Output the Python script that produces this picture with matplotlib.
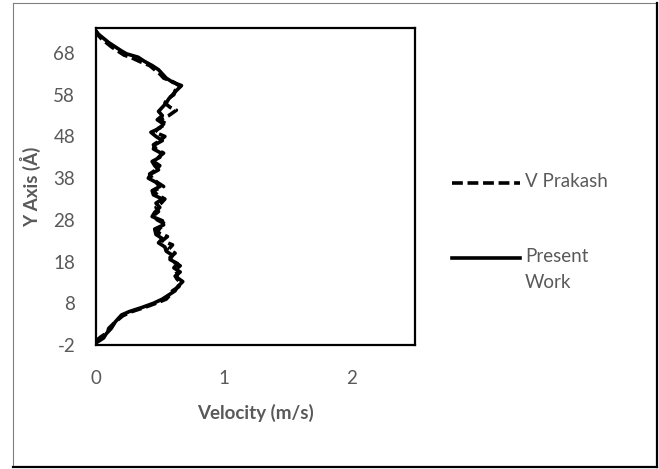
import matplotlib
matplotlib.use("Agg")
import matplotlib.pyplot as plt
from matplotlib.lines import Line2D

# 速度剖面数据
present_y = [-1.3, -0.3, 0.7, 2.0, 3.5, 5.2, 6.0, 7.0, 8.0, 9.0, 10.0, 11.0, 12.0, 13.2,
             14.5, 15.5, 16.5, 17.5, 18.5, 19.5, 20.5, 21.5, 22.5, 23.5, 24.5, 25.8,
             26.8, 27.8, 28.8, 29.8, 31.0, 32.0, 33.0, 34.0, 35.0, 36.0, 37.0, 38.0,
             39.0, 40.0, 41.0, 42.0, 43.0, 44.0, 45.0, 46.0, 47.0, 48.0, 49.0, 50.0,
             51.0, 52.0, 53.0, 54.0, 55.0, 56.0, 57.0, 58.0, 59.0, 60.2, 61.0, 62.0,
             63.0, 64.0, 65.0, 66.0, 67.0, 67.8, 68.5, 69.5, 70.5, 71.5, 72.5, 73.3]
present_v = [0.01, 0.06, 0.08, 0.12, 0.15, 0.20, 0.26, 0.36, 0.45, 0.52, 0.57, 0.62, 0.64, 0.68,
             0.62, 0.66, 0.61, 0.64, 0.58, 0.60, 0.55, 0.54, 0.49, 0.52, 0.47, 0.46,
             0.53, 0.52, 0.44, 0.46, 0.50, 0.47, 0.52, 0.45, 0.44, 0.50, 0.47, 0.41,
             0.43, 0.49, 0.46, 0.44, 0.50, 0.51, 0.45, 0.46, 0.52, 0.47, 0.43, 0.50,
             0.53, 0.48, 0.52, 0.49, 0.52, 0.55, 0.57, 0.60, 0.63, 0.67, 0.60, 0.55,
             0.52, 0.49, 0.44, 0.38, 0.33, 0.24, 0.20, 0.15, 0.10, 0.06, 0.02, 0.00]

prakash_y = [-1.0, 0.0, 1.0, 2.0, 3.5, 5.0, 6.0, 7.0, 8.0, 9.0, 10.0, 11.0, 12.0, 13.0,
             14.0, 15.0, 16.0, 17.0, 18.0, 19.0, 20.0, 21.0, 22.0, 23.0, 24.0, 25.0,
             26.0, 27.0, 28.0, 29.0, 30.0, 31.0, 32.0, 33.0, 34.0, 35.0, 36.0, 37.0,
             38.0, 39.0, 40.0, 41.0, 42.0, 43.0, 44.0, 45.0, 46.0, 47.0, 48.0, 49.0,
             50.0, 51.0, 52.0, 53.0, 54.3, 55.0, 56.0, 57.0, 58.0, 59.0, 60.0, 61.0,
             62.0, 63.0, 64.0, 65.0, 66.0, 67.0, 67.5, 68.5, 69.5, 70.5, 71.5, 72.5, 73.3]
prakash_v = [0.00, 0.04, 0.09, 0.10, 0.15, 0.21, 0.28, 0.38, 0.47, 0.55, 0.58, 0.60, 0.65, 0.66,
             0.63, 0.64, 0.62, 0.66, 0.60, 0.58, 0.62, 0.57, 0.60, 0.52, 0.56, 0.48,
             0.50, 0.54, 0.48, 0.45, 0.49, 0.47, 0.51, 0.54, 0.48, 0.45, 0.53, 0.48,
             0.44, 0.42, 0.47, 0.50, 0.45, 0.49, 0.53, 0.47, 0.45, 0.50, 0.54, 0.46,
             0.49, 0.55, 0.50, 0.57, 0.63, 0.58, 0.54, 0.56, 0.61, 0.62, 0.66, 0.61,
             0.53, 0.50, 0.46, 0.42, 0.34, 0.27, 0.22, 0.17, 0.12, 0.08, 0.04, 0.01, 0.00]

y_ticks = [-2, 8, 18, 28, 38, 48, 58, 68]
x_ticks = [0, 1, 2]
series_names = ['V Prakash', 'Present\nWork']

plt.rcParams['font.family'] = ['Lato', 'DejaVu Sans']
plt.rcParams['axes.unicode_minus'] = False
grey = '#595959'
dash = (0, (3, 1.3))

fig = plt.figure(figsize=(6.59, 4.69), dpi=100)
ax = fig.add_axes([96 / 659, 1 - 345 / 469, (415 - 96) / 659, (345 - 28) / 469])

ax.plot(prakash_v, prakash_y, color='black', lw=2.6, linestyle=dash)
ax.plot(present_v, present_y, color='black', lw=2.6)

ax.set_xlim(0, 2.5)
ax.set_ylim(-2, 74)
ax.set_xticks(x_ticks)
ax.set_yticks(y_ticks)
ax.tick_params(axis='y', length=0, labelsize=13.5, labelcolor=grey, pad=15)
ax.tick_params(axis='x', length=0, labelsize=13.5, labelcolor=grey, pad=18)
for spine in ax.spines.values():
    spine.set_linewidth(1.6)
    spine.set_color('black')

ax.set_xlabel('Velocity (m/s)', fontsize=13.5, fontweight='bold', color=grey, labelpad=12)
ax.set_ylabel('Y Axis (Å)', fontsize=13.5, fontweight='bold', color=grey, labelpad=9)

# 图例（手动放置，与参考图对齐）
legend_rows = [183, 258]
for name, row, ls in zip(series_names, legend_rows, [dash, '-']):
    yf = 1 - row / 469
    fig.add_artist(Line2D([452 / 659, 520 / 659], [yf, yf], transform=fig.transFigure,
                          color='black', lw=2.6, linestyle=ls))
    fig.text(525 / 659, yf + 10 / 469, name, color=grey, fontsize=13.5, va='top',
             transform=fig.transFigure, linespacing=1.65)

# 图表外框
fig.add_artist(Line2D([13 / 659, 13 / 659], [1 - 467 / 469, 1 - 3 / 469],
                      transform=fig.transFigure, color='#808080', lw=0.8))
fig.add_artist(Line2D([13 / 659, 657 / 659], [1 - 3 / 469, 1 - 3 / 469],
                      transform=fig.transFigure, color='#808080', lw=0.8))
fig.add_artist(Line2D([657 / 659, 657 / 659], [1 - 467 / 469, 1 - 3 / 469],
                      transform=fig.transFigure, color='black', lw=1.6))
fig.add_artist(Line2D([13 / 659, 657 / 659], [1 - 467 / 469, 1 - 467 / 469],
                      transform=fig.transFigure, color='black', lw=1.6))

fig.savefig('out.png', dpi=100)
